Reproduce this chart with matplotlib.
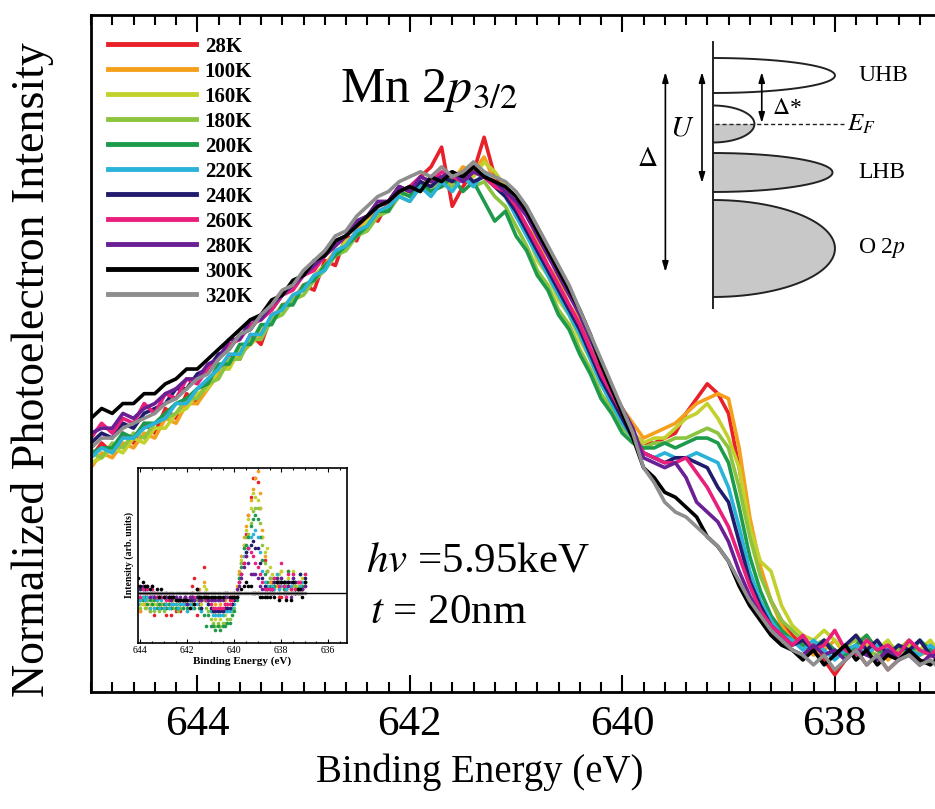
"""Mn 2p3/2 HAXPES spectra vs temperature, with difference inset and band sketch."""

import matplotlib.pyplot as plt
import numpy as np
from matplotlib.ticker import MultipleLocator

plt.rcParams['font.family'] = ['Liberation Serif', 'DejaVu Serif']
plt.rcParams['mathtext.fontset'] = 'stix'

# binding energy grid (eV), 645.0 -> 637.0 in 0.1 eV steps
energy = np.round(np.arange(645.0, 636.95, -0.1), 1)

temps = ['28K', '100K', '160K', '180K', '200K', '220K',
         '240K', '260K', '280K', '300K', '320K']
colors = ['#e8202a', '#f5a01c', '#c3d12c', '#8cc43f', '#1d9a4c', '#2ab3d9',
          '#221c6e', '#ea1f7c', '#6b1f94', '#000000', '#8e8e8e']

# normalized intensity
i_28k = [0.42, 0.45, 0.43, 0.47, 0.45, 0.49, 0.47, 0.52, 0.50, 0.55, 0.53,
         0.58, 0.59, 0.63, 0.62, 0.67, 0.65, 0.71, 0.72, 0.74, 0.77, 0.76, 0.82, 0.81, 0.87, 0.86, 0.91, 0.90,
         0.94, 0.97, 0.96, 0.99, 1.01, 1.05, 0.93, 0.97, 1.00, 1.07, 0.99, 0.96,
         0.91, 0.88, 0.84, 0.80, 0.77, 0.72, 0.69, 0.63, 0.60, 0.54, 0.51, 0.47,
         0.45, 0.45, 0.46, 0.47, 0.51, 0.54, 0.57, 0.55, 0.51, 0.40, 0.28, 0.19, 0.13, 0.09, 0.06,
         0.04, 0.03, 0.01, -0.02, 0.01, 0.03, 0.00, 0.02, -0.01, 0.01, 0.03, 0.00, 0.02, 0.01]
i_100k = [0.40, 0.43, 0.42, 0.45, 0.44, 0.47, 0.46, 0.50, 0.49, 0.53, 0.53,
          0.56, 0.59, 0.61, 0.63, 0.65, 0.67, 0.70, 0.73, 0.74, 0.77, 0.78, 0.81, 0.84, 0.85, 0.88, 0.90, 0.92,
          0.93, 0.96, 0.97, 0.96, 0.99, 0.97, 0.98, 1.01, 1.00, 1.03, 0.98, 0.96,
          0.93, 0.89, 0.86, 0.81, 0.78, 0.73, 0.70, 0.64, 0.61, 0.56, 0.52, 0.49,
          0.46, 0.47, 0.48, 0.49, 0.51, 0.53, 0.54, 0.55, 0.54, 0.44, 0.30, 0.20, 0.13, 0.08, 0.05,
          0.04, 0.02, 0.03, 0.05, 0.02, 0.04, 0.06, 0.03, 0.01, 0.03, 0.05, 0.02, 0.03, 0.02]
i_160k = [0.41, 0.42, 0.44, 0.43, 0.46, 0.45, 0.48, 0.48, 0.51, 0.52, 0.55,
          0.56, 0.60, 0.60, 0.64, 0.65, 0.68, 0.70, 0.72, 0.75, 0.76, 0.79, 0.81, 0.83, 0.86, 0.87, 0.90, 0.91,
          0.93, 0.95, 0.96, 0.98, 0.97, 0.99, 0.98, 1.00, 0.99, 1.02, 1.00, 0.97,
          0.92, 0.88, 0.82, 0.79, 0.74, 0.71, 0.66, 0.62, 0.57, 0.53, 0.50, 0.47,
          0.45, 0.46, 0.46, 0.48, 0.50, 0.51, 0.53, 0.50, 0.46, 0.40, 0.28, 0.21, 0.19, 0.12, 0.08,
          0.06, 0.05, 0.07, 0.05, 0.03, 0.06, 0.04, 0.03, 0.05, 0.02, 0.04, 0.03, 0.05, 0.02]
i_180k = [0.43, 0.42, 0.45, 0.44, 0.47, 0.46, 0.49, 0.50, 0.51, 0.54, 0.54,
          0.57, 0.58, 0.62, 0.62, 0.66, 0.66, 0.70, 0.71, 0.74, 0.75, 0.78, 0.80, 0.83, 0.84, 0.87, 0.88, 0.91,
          0.92, 0.95, 0.94, 0.97, 0.96, 0.98, 0.97, 0.99, 0.97, 0.98, 0.95, 0.93,
          0.89, 0.85, 0.80, 0.77, 0.72, 0.69, 0.64, 0.60, 0.55, 0.52, 0.48, 0.46,
          0.44, 0.45, 0.45, 0.46, 0.46, 0.47, 0.48, 0.47, 0.44, 0.36, 0.26, 0.18, 0.13, 0.09, 0.07,
          0.05, 0.04, 0.05, 0.02, 0.04, 0.05, 0.03, 0.02, 0.04, 0.03, 0.05, 0.02, 0.03, 0.04]
i_200k = [0.43, 0.44, 0.44, 0.47, 0.46, 0.49, 0.49, 0.51, 0.53, 0.54, 0.56,
          0.57, 0.61, 0.61, 0.65, 0.65, 0.69, 0.69, 0.73, 0.73, 0.77, 0.78, 0.81, 0.83, 0.85, 0.87, 0.89, 0.92,
          0.92, 0.96, 0.95, 0.98, 0.96, 0.97, 0.99, 0.96, 0.98, 0.94, 0.90, 0.92,
          0.87, 0.84, 0.79, 0.76, 0.71, 0.68, 0.63, 0.59, 0.54, 0.51, 0.47, 0.45,
          0.44, 0.44, 0.45, 0.44, 0.45, 0.46, 0.46, 0.45, 0.41, 0.32, 0.22, 0.15, 0.10, 0.07, 0.05,
          0.04, 0.03, 0.05, 0.03, 0.02, 0.04, 0.06, 0.03, 0.02, 0.04, 0.02, 0.05, 0.03, 0.02]
i_220k = [0.42, 0.44, 0.43, 0.46, 0.46, 0.48, 0.49, 0.50, 0.53, 0.53, 0.56,
          0.58, 0.60, 0.63, 0.63, 0.67, 0.67, 0.71, 0.72, 0.75, 0.76, 0.79, 0.80, 0.84, 0.85, 0.88, 0.89, 0.92,
          0.93, 0.95, 0.94, 0.97, 0.95, 0.98, 0.96, 0.99, 0.97, 1.00, 0.97, 0.95,
          0.91, 0.87, 0.83, 0.79, 0.75, 0.71, 0.67, 0.62, 0.57, 0.53, 0.49, 0.46,
          0.43, 0.42, 0.43, 0.42, 0.42, 0.43, 0.42, 0.41, 0.36, 0.28, 0.19, 0.13, 0.09, 0.06, 0.05,
          0.03, 0.05, 0.03, 0.01, 0.03, 0.04, 0.02, 0.04, 0.03, 0.01, 0.03, 0.02, 0.04, 0.02]
i_240k = [0.45, 0.47, 0.46, 0.49, 0.48, 0.51, 0.52, 0.53, 0.56, 0.56, 0.59,
          0.60, 0.63, 0.64, 0.67, 0.68, 0.71, 0.72, 0.75, 0.77, 0.79, 0.81, 0.83, 0.86, 0.87, 0.90, 0.91, 0.93,
          0.94, 0.97, 0.96, 0.98, 0.97, 0.99, 0.98, 1.00, 0.98, 0.99, 0.97, 0.95,
          0.92, 0.88, 0.84, 0.80, 0.76, 0.72, 0.68, 0.63, 0.58, 0.54, 0.50, 0.46,
          0.43, 0.42, 0.41, 0.42, 0.42, 0.41, 0.40, 0.36, 0.33, 0.25, 0.17, 0.12, 0.08, 0.06, 0.04,
          0.05, 0.03, 0.05, 0.02, 0.04, 0.06, 0.03, 0.05, 0.02, 0.04, 0.03, 0.05, 0.02, 0.03]
i_260k = [0.46, 0.49, 0.47, 0.50, 0.49, 0.53, 0.51, 0.55, 0.54, 0.58, 0.57,
          0.60, 0.62, 0.65, 0.66, 0.69, 0.70, 0.72, 0.75, 0.76, 0.79, 0.80, 0.83, 0.85, 0.87, 0.89, 0.91, 0.93,
          0.94, 0.96, 0.97, 0.99, 0.98, 1.00, 0.99, 0.98, 1.00, 0.99, 0.97, 0.96,
          0.93, 0.89, 0.85, 0.81, 0.77, 0.73, 0.69, 0.64, 0.59, 0.55, 0.51, 0.47,
          0.43, 0.42, 0.41, 0.41, 0.42, 0.39, 0.36, 0.32, 0.28, 0.22, 0.16, 0.11, 0.08, 0.06, 0.04,
          0.06, 0.03, 0.04, 0.07, 0.03, 0.02, 0.05, 0.03, 0.04, 0.02, 0.05, 0.03, 0.02, 0.04]
i_280k = [0.47, 0.48, 0.48, 0.51, 0.50, 0.52, 0.53, 0.55, 0.56, 0.58, 0.58,
          0.61, 0.62, 0.66, 0.66, 0.70, 0.70, 0.73, 0.75, 0.77, 0.79, 0.81, 0.83, 0.85, 0.87, 0.90, 0.91, 0.94,
          0.94, 0.97, 0.96, 0.99, 0.98, 0.99, 1.00, 0.98, 1.00, 0.99, 0.98, 0.96,
          0.94, 0.91, 0.87, 0.83, 0.79, 0.75, 0.71, 0.66, 0.61, 0.56, 0.52, 0.48,
          0.42, 0.41, 0.40, 0.41, 0.38, 0.33, 0.31, 0.29, 0.25, 0.19, 0.14, 0.10, 0.07, 0.05, 0.03,
          0.02, 0.04, 0.02, 0.03, 0.01, 0.03, 0.02, 0.01, 0.03, 0.01, 0.02, 0.00, 0.02, 0.01]
i_300k = [0.50, 0.52, 0.51, 0.53, 0.53, 0.55, 0.55, 0.57, 0.58, 0.60, 0.60,
          0.62, 0.64, 0.66, 0.68, 0.70, 0.71, 0.74, 0.75, 0.78, 0.79, 0.82, 0.83, 0.86, 0.87, 0.89, 0.91, 0.93,
          0.94, 0.96, 0.97, 0.96, 0.99, 0.98, 1.00, 0.99, 1.01, 0.99, 0.98, 0.97,
          0.95, 0.92, 0.88, 0.84, 0.80, 0.76, 0.72, 0.67, 0.61, 0.56, 0.51, 0.46,
          0.40, 0.38, 0.35, 0.34, 0.32, 0.30, 0.26, 0.24, 0.21, 0.16, 0.12, 0.09, 0.06, 0.04, 0.03,
          0.01, 0.03, 0.00, 0.02, 0.04, 0.01, 0.03, 0.00, 0.02, 0.01, 0.03, 0.01, 0.00, 0.02]
i_320k = [0.44, 0.46, 0.46, 0.48, 0.49, 0.50, 0.51, 0.53, 0.54, 0.56, 0.58,
          0.59, 0.62, 0.64, 0.67, 0.68, 0.71, 0.73, 0.76, 0.77, 0.80, 0.82, 0.84, 0.87, 0.88, 0.91, 0.93, 0.95,
          0.96, 0.98, 0.99, 1.00, 0.99, 1.01, 0.99, 1.00, 1.02, 1.00, 0.99, 0.98,
          0.96, 0.93, 0.89, 0.85, 0.81, 0.77, 0.72, 0.67, 0.62, 0.57, 0.52, 0.47,
          0.40, 0.37, 0.33, 0.31, 0.30, 0.28, 0.26, 0.24, 0.21, 0.17, 0.13, 0.10, 0.07, 0.05, 0.03,
          0.02, 0.00, 0.02, -0.01, 0.01, 0.03, 0.00, 0.02, -0.01, 0.01, 0.02, 0.00, 0.01, -0.01]

spectra = [i_28k, i_100k, i_160k, i_180k, i_200k, i_220k,
           i_240k, i_260k, i_280k, i_300k, i_320k]

# band sketch (energy relative to E_F, arbitrary units)
band_labels = ['UHB', '', 'LHB', 'O 2$p$']
band_center = [0.97, 0.0, -0.97, -2.49]
band_half = [0.35, 0.37, 0.39, 0.97]
band_width = [1.0, 0.34, 0.98, 1.0]

W, H = 935, 809


def fx(x):
    return x / W


def fy(y):
    return 1 - y / H


fig = plt.figure(figsize=(W / 100, H / 100), dpi=100)

# main spectra
ax = fig.add_axes([fx(91), fy(692), 850 / W, 677 / H])
for temp, color, vals in zip(temps, colors, spectra):
    ax.plot(energy, vals, color=color, lw=2.6, label=temp,
            solid_joinstyle='round')
ax.set_xlim(645, 637)
ax.set_ylim(-0.055, 1.318)
ax.xaxis.set_major_locator(MultipleLocator(2))
ax.xaxis.set_minor_locator(MultipleLocator(0.2))
ax.tick_params(axis='x', which='both', direction='in', top=True, bottom=True,
               labelsize=31, pad=10, width=1.5)
ax.tick_params(axis='x', which='major', length=12)
ax.tick_params(axis='x', which='minor', length=7)
ax.set_yticks([])
for sp in ax.spines.values():
    sp.set_linewidth(2)

leg = ax.legend(loc='upper left', bbox_to_anchor=(0.02, 0.968),
                frameon=False, handlelength=4.2, handletextpad=0.45,
                labelspacing=0.24, borderpad=0, borderaxespad=0,
                prop={'size': 15, 'weight': 'bold'})
for line in leg.get_lines():
    line.set_linewidth(3.5)

fig.text(fx(33), fy(370), 'Normalized Photoelectron Intensity', fontsize=33,
         rotation=90, ha='center', va='center')
fig.text(fx(480), fy(772), 'Binding Energy (eV)', fontsize=28,
         ha='center', va='center')
fig.text(fx(340), fy(102), 'Mn 2$p_{3/2}$', fontsize=36, va='baseline')
fig.text(fx(366), fy(572), '$hv$ =5.95keV', fontsize=31, va='baseline')
fig.text(fx(370), fy(623), '$t$ = 20nm', fontsize=31, va='baseline')

# inset: difference spectra relative to 320K
ins = fig.add_axes([fx(138), fy(643), 209 / W, 175 / H])
ref = np.array(i_320k)
for color, vals in zip(colors, spectra):
    ins.plot(energy, np.array(vals) - ref, 'o', ms=2.6, mew=0, color=color)
ins.axhline(0, color='black', lw=1)
ins.set_xlim(644.1, 635.2)
ins.set_ylim(-0.135, 0.337)
ins.xaxis.set_major_locator(MultipleLocator(2))
ins.xaxis.set_minor_locator(MultipleLocator(0.5))
ins.tick_params(axis='x', which='both', direction='in', top=True,
                labelsize=7, pad=2, width=0.8)
ins.tick_params(axis='x', which='major', length=3)
ins.tick_params(axis='x', which='minor', length=1.5)
ins.set_yticks([])
for sp in ins.spines.values():
    sp.set_linewidth(1.2)
ins.set_xlabel('Binding Energy (eV)', fontsize=8, fontweight='bold', labelpad=1)
ins.set_ylabel('Intensity (arb. units)', fontsize=7, fontweight='bold', labelpad=3)

# band sketch
dg = fig.add_axes([fx(600), fy(315), 335 / W, 285 / H])
dg.set_xlim(-0.926, 1.82)
dg.set_ylim(-3.82, 1.88)
dg.axis('off')
t = np.linspace(-np.pi / 2, np.pi / 2, 200)
for lab, c, h, w in zip(band_labels, band_center, band_half, band_width):
    bx = w * np.cos(t)
    by = c + h * np.sin(t)
    if lab == '':
        lower = by <= 0
        dg.fill(np.append(bx[lower], 0), np.append(by[lower], 0),
                color='#c8c8c8', lw=0)
    elif lab != 'UHB':
        dg.fill(bx, by, color='#c8c8c8', lw=0)
    dg.plot(bx, by, color='#222222', lw=1.4)
    if lab:
        dg.text(1.19, c, lab, fontsize=17, va='center', ha='left')
dg.plot([0, 0], [1.64, -3.68], color='#222222', lw=1.4)
dg.plot([0.02, 1.07], [0, 0], color='#222222', lw=1, ls=(0, (3, 2)))
dg.text(1.10, 0, '$E_F$', fontsize=18, va='center', ha='left')

arrow_x = [-0.39, -0.09, 0.40]
arrow_top = [1.04, 1.04, 1.04]
arrow_bot = [-2.96, -1.18, 0.02]
for x, y0, y1 in zip(arrow_x, arrow_top, arrow_bot):
    dg.annotate('', xy=(x, y1), xytext=(x, y0),
                arrowprops=dict(arrowstyle='<|-|>,head_length=0.6,head_width=0.18',
                                color='black', lw=1.2, shrinkA=0, shrinkB=0))
dg.text(-0.54, -0.72, r'$\Delta$', fontsize=20, ha='center', va='center')
dg.text(-0.25, -0.08, '$U$', fontsize=21, ha='center', va='center')
dg.text(0.48, 0.32, r'$\Delta$*', fontsize=17, ha='left', va='center')

fig.savefig('out.png', dpi=100)
